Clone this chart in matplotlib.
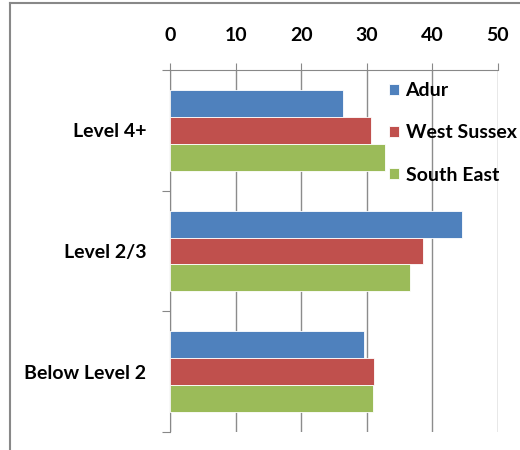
#! /usr/bin/env python
"""
plot.py
"""

import numpy as np
import matplotlib
matplotlib.use('Agg')
import matplotlib.pyplot as plt
from matplotlib.lines import Line2D

categories = ['Level 4+', 'Level 2/3', 'Below Level 2']
series = ['Adur', 'West Sussex', 'South East']
adur = [26.4, 44.5, 29.6]
west_sussex = [30.6, 38.6, 31.1]
south_east = [32.7, 36.6, 30.9]
colors = ['#4F81BD', '#C0504D', '#9BBB59']
x_ticks = [0, 10, 20, 30, 40, 50]

plt.rcParams['font.family'] = ['Lato', 'DejaVu Sans']
plt.rcParams['font.weight'] = 'bold'

fig = plt.figure(figsize=(5.2, 4.5), dpi=100)
ax = fig.add_axes([170 / 520, 1 - 432 / 450, 328 / 520, 362 / 450])

y = np.arange(len(categories))
h = 1 / 1.5 / 3
for i, (vals, name) in enumerate(zip([adur, west_sussex, south_east], series)):
    ax.barh(y + (i - 1) * h, vals, height=h, color=colors[i], label=name,
            edgecolor='white', linewidth=0.6, zorder=3)

ax.set_xlim(0, 50)
ax.set_ylim(2.5, -0.5)
ax.set_xticks(x_ticks)
ax.xaxis.tick_top()
ax.tick_params(axis='x', length=5, width=0.8, color='#888888', pad=14,
               labelsize=14)
ax.grid(axis='x', color='#8c8c8c', linewidth=1, zorder=0)

ax.set_yticks(y)
ax.set_yticklabels(categories)
ax.set_yticks([-0.5, 0.5, 1.5, 2.5], minor=True)
ax.tick_params(axis='y', which='major', length=0, pad=17, labelsize=14)
ax.tick_params(axis='y', which='minor', length=6, width=0.8, color='#888888')

for s in ['right', 'bottom']:
    ax.spines[s].set_visible(False)
ax.spines['left'].set_color('#888888')
ax.spines['top'].set_color('#888888')

ax.legend(loc='upper left', bbox_to_anchor=(389 / 520, 1 - 82 / 450),
          bbox_transform=fig.transFigure, frameon=False, fontsize=14,
          handlelength=0.5, handleheight=0.5, handletextpad=0.35,
          labelspacing=1.3, borderpad=0, borderaxespad=0)

# outer chart frame
fig.add_artist(Line2D([10 / 520, 10 / 520], [0, 1 - 3 / 450],
                      transform=fig.transFigure, color='#888888', lw=1.5))
fig.add_artist(Line2D([10 / 520, 1], [1 - 3 / 450, 1 - 3 / 450],
                      transform=fig.transFigure, color='#888888', lw=1.5))

fig.savefig('out.png', dpi=100)
plt.close(fig)
